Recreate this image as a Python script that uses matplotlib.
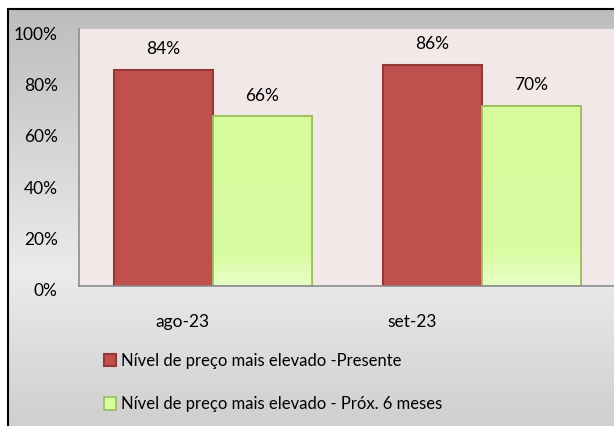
import numpy as np
import matplotlib.pyplot as plt
import matplotlib.transforms as mtransforms
from matplotlib.colors import LinearSegmentedColormap
from matplotlib.patches import Rectangle

# data
categories = ['ago-23', 'set-23']
presente = [84, 86]
prox_6_meses = [66, 70]
series_names = ['Nível de preço mais elevado -Presente',
                'Nível de preço mais elevado - Próx. 6 meses']
yticks = [0, 20, 40, 60, 80, 100]

plt.rcParams['font.family'] = ['Lato', 'DejaVu Sans']

W, H = 614, 426
fig = plt.figure(figsize=(W / 100, H / 100), dpi=100)
fig.patch.set_facecolor('white')

# gray gradient chart background with black frame
bg_ax = fig.add_axes([8 / W, 0, 1 - 8 / W, 1 - 9 / H], zorder=-2)
bg_cmap = LinearSegmentedColormap.from_list(
    'bg', [(0, '#cfcfcf'), (0.37, '#ebebeb'), (1, '#bdbdbd')])
grad = np.linspace(0, 1, 256).reshape(-1, 1)
bg_ax.imshow(grad, aspect='auto', cmap=bg_cmap, origin='lower', extent=[0, 1, 0, 1])
bg_ax.set_axis_off()
fig.patches.append(Rectangle((8 / W, -0.1), 1.1, 1 - 9 / H + 0.1,
                             transform=fig.transFigure, fill=False,
                             edgecolor='black', linewidth=1.5, zorder=5))

# plot area
ax = fig.add_axes([78.5 / W, 1 - 286 / H, (616.5 - 78.5) / W, (286 - 29) / H])
ax.set_facecolor('#f2e8e8')

x = np.arange(len(categories))
width = 0.368

red_bars = ax.bar(x - width / 2, presente, width, color='#c0504d',
                  edgecolor='#953735', linewidth=1.5, zorder=2)
green_bars = ax.bar(x + width / 2, prox_6_meses, width, color='#d8fca0',
                    edgecolor='#9bbb59', linewidth=1.2, zorder=2)

# light gradient at the bottom of the green bars
green_cmap = LinearSegmentedColormap.from_list(
    'g', [(0, '#e8ffc8'), (0.2, '#d8fca0'), (1, '#d6fb9c')])
for b in green_bars:
    im = ax.imshow(grad, aspect='auto', cmap=green_cmap, origin='lower',
                   extent=[b.get_x(), b.get_x() + b.get_width(), 0, b.get_height()],
                   zorder=2.1)
    im.set_clip_path(b)
    ax.bar(b.get_x(), b.get_height(), b.get_width(), align='edge', fill=False,
           edgecolor='#9bbb59', linewidth=1.2, zorder=2.2)

for bars, vals in [(red_bars, presente), (green_bars, prox_6_meses)]:
    for b, v in zip(bars, vals):
        ax.annotate(f'{v}%', (b.get_x() + b.get_width() / 2, v),
                    xytext=(0, 15), textcoords='offset points',
                    ha='center', va='center', fontsize=12.5, color='black')

ax.set_xlim(-0.5, len(categories) - 0.5)
ax.set_ylim(0, 100)
ax.set_yticks(yticks)
ax.set_yticklabels([f'{t}%' for t in yticks], fontsize=12.5)
ax.tick_params(axis='y', length=0, pad=15)
offset = mtransforms.ScaledTranslation(0, -4 / 100, fig.dpi_scale_trans)
for lab in ax.get_yticklabels():
    lab.set_transform(lab.get_transform() + offset)

# category labels sit left of the bar groups, as in the source
ax.set_xticks([x[0] - 0.115, x[1] - 0.26])
ax.set_xticklabels(categories, fontsize=12.5)
ax.tick_params(axis='x', length=0, pad=20.5)

for side in ['top', 'right']:
    ax.spines[side].set_visible(False)
for side in ['left', 'bottom']:
    ax.spines[side].set_color('#8c8c8c')
    ax.spines[side].set_linewidth(1.2)

leg = fig.legend([red_bars, green_bars], series_names, loc='upper left',
                 bbox_to_anchor=(97 / W, 1 - 346 / H), frameon=False,
                 fontsize=12, handlelength=0.75, handleheight=0.8,
                 handletextpad=0.3, labelspacing=1.65, borderaxespad=0)

fig.savefig('out.png', dpi=100)
